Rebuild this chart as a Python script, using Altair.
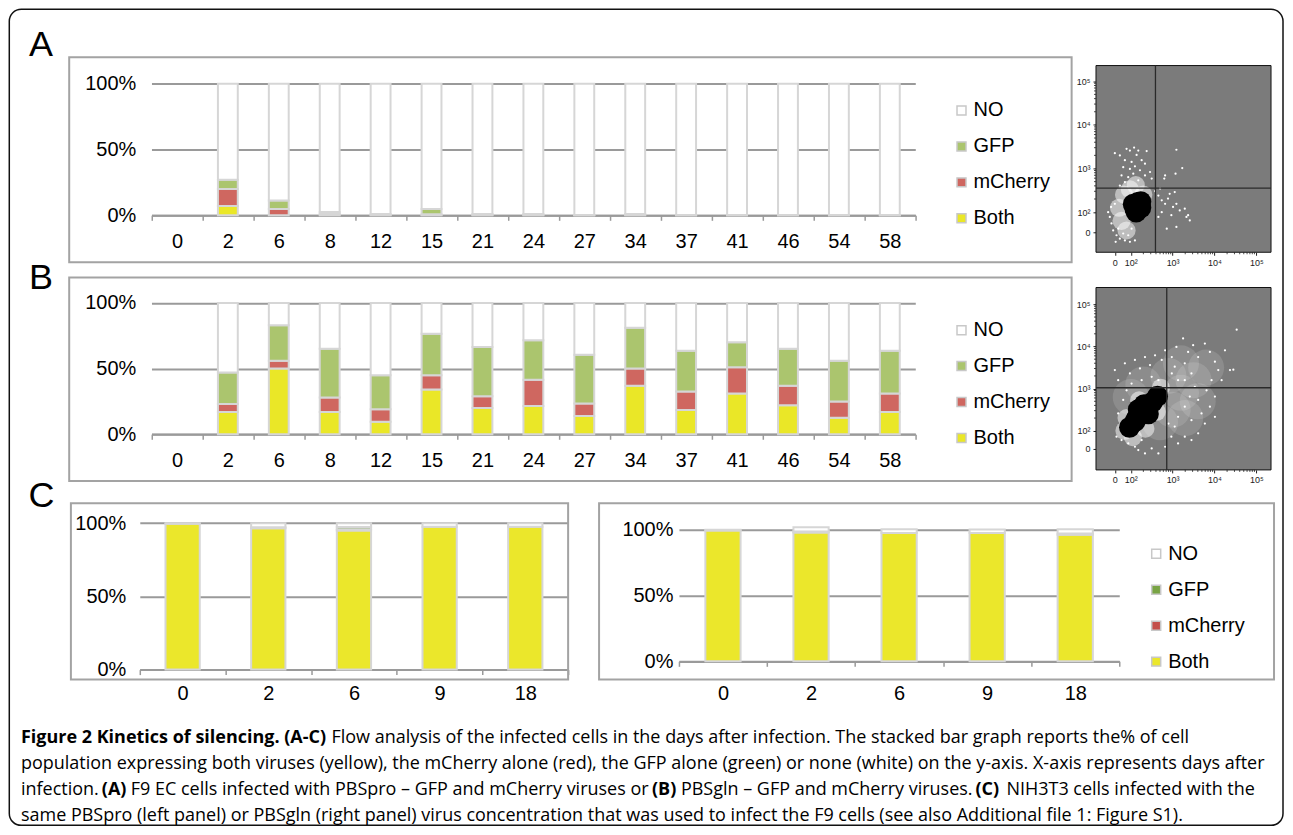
import math
import altair as alt
import pandas as pd

# ---------------------------------------------------------------- data
SERIES = ["Both", "mCherry", "GFP", "NO"]          # stacking order, bottom -> top
LEGEND_ORDER = ["NO", "GFP", "mCherry", "Both"]    # legend order, top -> bottom

DAYS_AB = ["0", "2", "6", "8", "12", "15", "21", "24", "27", "34", "37", "41", "46", "54", "58"]
A_BOTH    = [0, 7.0, 0.0, 0.5, 0.3, 0.3, 0.3, 0.3, 0.1, 0.3, 0.1, 0.1, 0.1, 0.1, 0.1]
A_MCHERRY = [0, 13.0, 4.8, 0.5, 0.3, 0.5, 0.3, 0.3, 0.1, 0.3, 0.1, 0.1, 0.1, 0.1, 0.1]
A_GFP     = [0, 7.0, 6.5, 1.5, 0.4, 4.0, 0.4, 0.4, 0.1, 0.4, 0.1, 0.1, 0.1, 0.1, 0.1]
A_NO      = [0, 73.0, 88.7, 97.5, 99.0, 95.2, 99.0, 99.0, 99.7, 99.0, 99.7, 99.7, 99.7, 99.7, 99.7]

B_BOTH    = [0, 17, 50, 17, 9.5, 34, 20, 21.5, 14, 37, 18.5, 31, 22, 12.5, 17]
B_MCHERRY = [0, 6, 6, 11, 9.5, 11, 9, 20, 9.5, 13, 14, 20, 15, 12.5, 14]
B_GFP     = [0, 24, 27, 37, 26, 31.5, 37.5, 30, 37, 31, 31, 19, 28, 31, 32.5]
B_NO      = [0, 53, 17, 35, 55, 23.5, 33.5, 28.5, 39.5, 19, 36.5, 30, 35, 44, 36.5]

DAYS_C = ["0", "2", "6", "9", "18"]
CL_BOTH    = [99.5, 96.5, 95.0, 97.5, 97.5]
CL_MCHERRY = [0, 0.7, 0.8, 0, 0]
CL_GFP     = [0, 0, 1.5, 0, 0]
CL_NO      = [0.5, 2.8, 2.7, 2.5, 2.5]

CR_BOTH    = [99.5, 98.0, 97.5, 97.5, 96.2]
CR_MCHERRY = [0, 0.8, 0, 0, 1.0]
CR_GFP     = [0, 0, 0, 0, 0]
CR_NO      = [0.5, 3.2, 3.0, 2.8, 3.3]

Y_TICKS = [0, 0.5, 1]

# flow cytometry plots (log10 display units)
FLOW_DECADES = [2, 3, 4, 5]
FLOWA_ZERO_X, FLOWA_ZERO_Y = 1.62, 1.54
FLOWB_ZERO_X, FLOWB_ZERO_Y = 1.62, 1.57
FLOWA_GATE = (2.59, 2.55)
FLOWB_GATE = (2.86, 3.02)

FLOWA_DOTS_X = [1.62, 1.74, 1.90, 1.98, 2.08, 2.18, 2.14, 2.38, 1.86, 2.02, 2.26, 2.34, 1.82, 1.98, 2.10,
                2.22, 2.46, 1.78, 1.94, 2.06, 2.34, 2.50, 1.86, 2.18, 1.74, 3.09, 3.23, 3.07, 2.82, 2.80,
                2.66, 2.74, 2.82, 2.89, 3.01, 3.09, 3.17, 3.29, 3.37, 3.41, 2.97, 2.74, 2.66, 3.09, 2.86,
                3.05, 2.93, 2.70, 2.58, 3.33, 1.50, 1.54, 1.58, 1.66, 1.74, 1.86, 1.98, 2.10, 1.46, 1.53,
                1.62, 1.70, 1.82, 1.94, 2.02, 1.64]
FLOWA_DOTS_Y = [3.35, 3.30, 3.45, 3.41, 3.48, 3.41, 3.31, 3.40, 3.19, 3.15, 3.19, 3.11, 3.03, 2.99, 3.05,
                2.96, 2.92, 2.84, 2.80, 2.88, 2.84, 2.77, 2.69, 2.73, 2.61, 3.43, 3.01, 2.88, 2.84, 2.77,
                2.38, 2.27, 2.19, 2.31, 2.12, 2.19, 2.04, 2.08, 1.93, 1.81, 1.93, 2.00, 1.89, 1.66, 1.62,
                2.46, 2.42, 2.54, 2.48, 1.89, 1.89, 1.74, 1.58, 1.47, 1.39, 1.35, 1.32, 1.35, 2.00, 2.12,
                2.19, 1.62, 1.51, 1.47, 1.62, 1.32]
FLOWA_HALO_X = [1.78, 1.72, 1.90, 1.98, 2.12, 2.30, 1.84]
FLOWA_HALO_Y = [1.80, 2.10, 1.58, 2.52, 2.62, 2.40, 2.40]
FLOWA_CORE_X = [2.10, 2.24, 2.17, 2.13, 2.24, 2.06]
FLOWA_CORE_Y = [2.08, 2.10, 2.22, 2.00, 2.24, 2.18]

FLOWB_DOTS_X = [1.62, 1.70, 1.86, 1.98, 2.10, 2.22, 2.34, 2.46, 2.58, 2.74, 2.82, 2.98, 3.09, 3.25, 3.37,
                3.49, 3.61, 3.77, 3.89, 4.01, 4.09, 4.25, 4.37, 4.45, 4.53, 3.93, 3.81, 4.01, 3.89, 3.69,
                3.77, 3.61, 3.45, 3.29, 3.13, 2.97, 2.82, 2.66, 2.50, 2.26, 2.10, 1.94, 1.78, 1.66, 1.74,
                1.70, 1.82, 1.90, 2.02, 2.26, 2.50, 2.66, 2.98, 3.13, 3.29, 3.45, 3.53, 3.41, 3.29, 3.13,
                3.05, 2.90, 3.45, 3.61, 3.29, 3.05, 2.34, 2.18, 4.01, 4.17]
FLOWB_DOTS_Y = [3.44, 3.20, 3.60, 3.36, 3.68, 3.48, 3.75, 3.56, 3.79, 3.68, 3.91, 3.75, 3.99, 4.19, 3.87,
                4.03, 3.75, 4.07, 3.87, 3.64, 3.44, 3.91, 3.44, 3.45, 4.40, 3.20, 2.96, 2.81, 2.57, 2.41,
                2.17, 1.94, 1.78, 1.86, 1.70, 1.86, 1.62, 1.46, 1.58, 1.78, 1.62, 1.70, 1.78, 1.86, 2.10,
                2.41, 2.73, 2.96, 3.12, 3.20, 3.28, 3.20, 3.36, 3.20, 3.20, 3.36, 3.04, 2.81, 2.57, 2.33,
                2.10, 2.17, 2.25, 2.73, 3.60, 3.52, 1.46, 1.54, 2.33, 3.20]
FLOWB_CLOUD_X = [3.20, 3.50, 3.00, 3.30, 2.90, 3.60, 3.20, 2.70, 3.80, 2.30, 2.00]
FLOWB_CLOUD_Y = [2.90, 3.20, 2.50, 2.30, 3.30, 2.70, 3.60, 2.20, 3.50, 3.10, 2.80]
FLOWB_HALO_X = [1.90, 2.05, 2.35, 1.85, 2.62, 2.72, 2.20]
FLOWB_HALO_Y = [2.30, 1.85, 2.05, 2.00, 2.45, 3.02, 2.72]
FLOWB_CORE_X = [1.97, 2.10, 2.24, 2.38, 2.52, 2.64, 2.18, 2.42, 2.32, 2.14]
FLOWB_CORE_Y = [2.08, 2.22, 2.38, 2.54, 2.68, 2.82, 2.50, 2.40, 2.62, 2.30]

CAPTION = [
    [("Figure 2 Kinetics of silencing. (A-C)", True),
     ("Flow analysis of the infected cells in the days after infection. The stacked bar graph reports the% of cell", False)],
    [("population expressing both viruses (yellow), the mCherry alone (red), the GFP alone (green) or none (white) on the y-axis. X-axis represents days after", False)],
    [("infection.", False), ("(A)", True),
     ("F9 EC cells infected with PBSpro \u2013 GFP and mCherry viruses or", False), ("(B)", True),
     ("PBSgln \u2013 GFP and mCherry viruses.", False), ("(C)", True),
     ("NIH3T3 cells infected with the", False)],
    [("same PBSpro (left panel) or PBSgln (right panel) virus concentration that was used to infect the F9 cells (see also Additional file 1: Figure S1).", False)],
]

# ---------------------------------------------------------------- layout / style
OFF = 8            # page margin: reference pixel -> view pixel
W, H = 1279, 822
FONT = "Liberation Sans"
CAP_FONT = "Open Sans"
CAP_SIZE = 18
AB_COLORS = {"NO": "#ffffff", "GFP": "#abc56e", "mCherry": "#cf6760", "Both": "#eae727"}
C_COLORS = {"NO": "#ffffff", "GFP": "#79a444", "mCherry": "#c4504b", "Both": "#ebe72b"}
BAR_STROKE = "#d6d6d6"
GRID = "#9a9a9a"
BOX = "#a3a3a3"


def px(v):
    return v - OFF


ONE = alt.Data(values=[{}])


def long_df(days, both, mch, gfp, no):
    rows = []
    for i, d in enumerate(days):
        for k, (s, vals) in enumerate(zip(SERIES, [both, mch, gfp, no])):
            if vals[i] > 0:
                rows.append({"day": d, "series": s, "k": k, "value": vals[i] / 100.0})
    return pd.DataFrame(rows)


def bar_panel(df, days, xr, yr, ylab_right, xlab_pad, colors, legend_xy=None, bar_frac=0.39):
    xs = alt.Scale(domain=days, range=[px(xr[0]), px(xr[1])], paddingInner=0, paddingOuter=0)
    ys = alt.Scale(domain=[0, 1], range=[px(yr[0]), px(yr[1])], nice=False, zero=False)
    if legend_xy is None:
        leg = None
    else:
        leg = alt.Legend(orient="none", legendX=px(legend_xy[0]), legendY=px(legend_xy[1]), title=None,
                         symbolType="square", symbolSize=81, symbolStrokeColor="#c8c8c8",
                         symbolStrokeWidth=1.5, labelFontSize=20, labelFont=FONT, labelColor="black",
                         rowPadding=16, labelOffset=2, padding=0, offset=0)
    return alt.Chart(df).mark_bar(width=alt.RelativeBandSize(bar_frac), stroke=BAR_STROKE, strokeWidth=2).encode(
        x=alt.X("day:N", scale=xs, sort=days,
                axis=alt.Axis(orient="bottom", offset=px(yr[0]) - H, title=None, grid=False,
                              domainColor=GRID, domainWidth=2, tickColor=GRID, tickWidth=1.5,
                              tickSize=5, tickBand="extent", labelAngle=0, labelFontSize=20,
                              labelFont=FONT, labelColor="black", labelPadding=xlab_pad)),
        y=alt.Y("value:Q", stack="zero", scale=ys,
                axis=alt.Axis(orient="left", offset=-(px(ylab_right) + 4), values=Y_TICKS, format="%",
                              title=None, domain=False, ticks=False, tickSize=0, grid=True,
                              gridColor=GRID, gridWidth=2, labelFontSize=20, labelFont=FONT,
                              labelColor="black", labelPadding=4)),
        color=alt.Color("series:N", scale=alt.Scale(domain=LEGEND_ORDER,
                                                     range=[colors[s] for s in LEGEND_ORDER]), legend=leg),
        order=alt.Order("k:Q"),
    )


def pts(xs_, ys_):
    return pd.DataFrame({"x": xs_, "y": ys_})


def flow_panel(box, xdom, ydom, zero_x, zero_y, gate, dots, halo, core, cloud=None):
    (bx0, by0, bx1, by1) = box
    xs = alt.Scale(domain=xdom, range=[px(bx0), px(bx1)], nice=False, zero=False)
    ys = alt.Scale(domain=ydom, range=[px(by1), px(by0)], nice=False, zero=False)
    lab = ("datum.value < 1.9 ? '0' : datum.value < 2.5 ? '10\u00b2' : datum.value < 3.5 ? '10\u00b3'"
           " : datum.value < 4.5 ? '10\u2074' : '10\u2075'")
    bg = alt.Chart(alt.Data(values=[{"x0": xdom[0], "x1": xdom[1], "y0": ydom[0], "y1": ydom[1]}])).mark_rect(
        fill="#7b7b7b", stroke="#111111", strokeWidth=1).encode(
        x=alt.X("x0:Q", scale=xs, axis=alt.Axis(orient="bottom", offset=px(by1) - H, values=[zero_x] + FLOW_DECADES,
                                               labelExpr=lab, title=None, grid=False, domain=False,
                                               tickColor="#222", tickSize=3, tickWidth=1, labelFontSize=9,
                                               labelFont=FONT, labelColor="#222", labelPadding=3)),
        x2="x1:Q",
        y=alt.Y("y0:Q", scale=ys, axis=alt.Axis(orient="left", offset=-px(bx0), values=[zero_y] + FLOW_DECADES,
                                               labelExpr=lab, title=None, grid=False, domain=False,
                                               tickColor="#222", tickSize=3, tickWidth=1, labelFontSize=9,
                                               labelFont=FONT, labelColor="#222", labelPadding=3)),
        y2="y1:Q",
    )
    minor = [k + math.log10(m) for k in (2, 3, 4) for m in range(2, 10)]
    mx = alt.Chart(pd.DataFrame({"v": [v for v in minor if v < xdom[1]]})).mark_rule(
        color="#222", strokeWidth=0.8).encode(
        x=alt.X("v:Q", scale=xs), y=alt.value(px(by1)), y2=alt.value(px(by1) + 2))
    my = alt.Chart(pd.DataFrame({"v": [v for v in minor if v < ydom[1]]})).mark_rule(
        color="#222", strokeWidth=0.8).encode(
        y=alt.Y("v:Q", scale=ys), x=alt.value(px(bx0) - 2), x2=alt.value(px(bx0)))
    layers = [bg, mx, my]
    if cloud is not None:
        layers.append(alt.Chart(pts(*cloud)).mark_circle(size=1300, color="white", opacity=0.13).encode(
            x=alt.X("x:Q", scale=xs), y=alt.Y("y:Q", scale=ys)))
    layers.append(alt.Chart(pts(*halo)).mark_circle(size=330, color="white", opacity=0.5).encode(
        x=alt.X("x:Q", scale=xs), y=alt.Y("y:Q", scale=ys)))
    layers.append(alt.Chart(pts(*dots)).mark_circle(size=5, color="white", opacity=1).encode(
        x=alt.X("x:Q", scale=xs), y=alt.Y("y:Q", scale=ys)))
    layers.append(alt.Chart(pts(*core)).mark_circle(size=440, color="black", opacity=1).encode(
        x=alt.X("x:Q", scale=xs), y=alt.Y("y:Q", scale=ys)))
    gate_df = pd.DataFrame({"gx": [gate[0]], "gy": [gate[1]], "x0": [xdom[0]], "x1": [xdom[1]],
                            "y0": [ydom[0]], "y1": [ydom[1]]})
    layers.append(alt.Chart(gate_df).mark_rule(color="#2a2a2a", strokeWidth=1.3).encode(
        x=alt.X("gx:Q", scale=xs), y=alt.Y("y0:Q", scale=ys), y2="y1:Q"))
    layers.append(alt.Chart(gate_df).mark_rule(color="#2a2a2a", strokeWidth=1.3).encode(
        y=alt.Y("gy:Q", scale=ys), x=alt.X("x0:Q", scale=xs), x2="x1:Q"))
    return alt.layer(*layers)


def box(x0, y0, x1, y1, color=BOX, width=2, radius=0):
    return alt.Chart(ONE).mark_rect(fill=None, fillOpacity=0, stroke=color, strokeWidth=width,
                                    cornerRadius=radius).encode(
        x=alt.value(px(x0)), x2=alt.value(px(x1)), y=alt.value(px(y0)), y2=alt.value(px(y1)))


def text(t, x, y, size, bold=False, font=FONT, align="left", baseline="middle"):
    return alt.Chart(ONE).mark_text(text=t, font=font, fontSize=size, fontWeight="bold" if bold else "normal",
                                    align=align, baseline=baseline, color="black").encode(
        x=alt.value(px(x)), y=alt.value(px(y)))


# ---------------------------------------------------------------- panels
panel_a = bar_panel(long_df(DAYS_AB, A_BOTH, A_MCHERRY, A_GFP, A_NO), DAYS_AB,
                    (151.7, 916.7), (215, 83.3), 136, 11, AB_COLORS, legend_xy=(953, 100))
panel_b = bar_panel(long_df(DAYS_AB, B_BOTH, B_MCHERRY, B_GFP, B_NO), DAYS_AB,
                    (151.7, 916.7), (434.3, 302.7), 136, 11, AB_COLORS, legend_xy=(953, 320))
panel_cl = bar_panel(long_df(DAYS_C, CL_BOTH, CL_MCHERRY, CL_GFP, CL_NO), DAYS_C,
                     (140, 569), (670, 523.3), 126, 9, C_COLORS, legend_xy=None, bar_frac=0.4)
panel_cr = bar_panel(long_df(DAYS_C, CR_BOTH, CR_MCHERRY, CR_GFP, CR_NO), DAYS_C,
                     (680, 1121), (661.7, 530), 674, 17, C_COLORS, legend_xy=(1148, 544), bar_frac=0.4)

flow_a = flow_panel((1097.7, 65, 1273, 252), [1.17, 5.35], [1.08, 5.36], FLOWA_ZERO_X, FLOWA_ZERO_Y,
                    FLOWA_GATE, (FLOWA_DOTS_X, FLOWA_DOTS_Y), (FLOWA_HALO_X, FLOWA_HALO_Y),
                    (FLOWA_CORE_X, FLOWA_CORE_Y))
flow_b = flow_panel((1097.7, 287.3, 1273, 470), [1.17, 5.35], [1.07, 5.40], FLOWB_ZERO_X, FLOWB_ZERO_Y,
                    FLOWB_GATE, (FLOWB_DOTS_X, FLOWB_DOTS_Y), (FLOWB_HALO_X, FLOWB_HALO_Y),
                    (FLOWB_CORE_X, FLOWB_CORE_Y), cloud=(FLOWB_CLOUD_X, FLOWB_CLOUD_Y))

decor = [
    box(9.3, 8.6, 1285, 826, color="#111111", width=1.5, radius=12),
    box(69.3, 56.7, 1073.3, 262),
    box(69.3, 277.3, 1073.3, 481),
    box(71, 503.3, 569, 680),
    box(600, 503.3, 1276, 680),
    text("A", 41, 55, 36, align="center", baseline="alphabetic"),
    text("B", 41, 289, 36, align="center", baseline="alphabetic"),
    text("C", 41.5, 507, 36, align="center", baseline="alphabetic"),
]

CAP_Y = [739, 765, 791, 817]
CAP_X = [[21, 332], [21], [21, 102, 131, 653, 682, 977, 1008], [21]]
cap_layers = []
for li, line in enumerate(CAPTION):
    for si, (seg, bold) in enumerate(line):
        cap_layers.append(text(seg, CAP_X[li][si], CAP_Y[li], CAP_SIZE, bold=bold, font=CAP_FONT))

chart = alt.layer(
    *decor, panel_a, panel_b, panel_cl, panel_cr, flow_a, flow_b, *cap_layers
).resolve_scale(
    x="independent", y="independent", color="independent"
).properties(
    width=W, height=H, padding=0, autosize=alt.AutoSizeParams(type="none")
).configure_view(stroke=None)

chart.save("out.html", embed_options={"renderer": "svg", "actions": False})
